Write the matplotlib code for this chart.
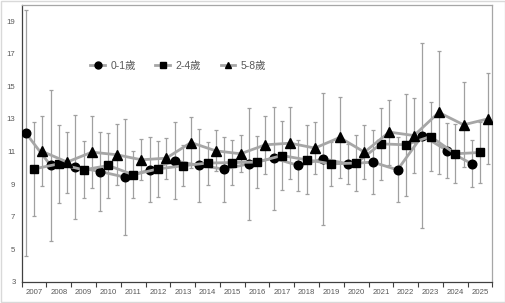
import numpy as np
import matplotlib
matplotlib.use("Agg")
import matplotlib.pyplot as plt
from matplotlib.patches import Rectangle

years = list(range(2007, 2026))

# 0-1歲 (circle)
age01 = [12.13, 10.14, 10.04, 9.77, 9.42, 9.87, 10.43, 10.14, 9.92, 10.24,
         10.59, 10.14, 10.55, 10.24, 10.35, 9.87, 11.98, 11.06, 10.24]
err01 = [7.55, 4.64, 3.2, 2.4, 3.55, 2.0, 2.36, 2.24, 2.0, 3.43,
         3.16, 1.54, 4.05, 1.24, 1.98, 2.0, 5.7, 1.66, 1.44]

# 2-4歲 (square)
age24 = [9.93, 10.24, 9.87, 10.14, 9.57, 9.93, 10.12, 10.29, 10.32, 10.35,
         10.75, 10.49, 10.24, 10.29, 11.47, 11.41, 11.92, 10.86, 10.94]
err24 = [2.9, 2.4, 1.75, 1.97, 1.44, 1.7, 1.25, 1.32, 1.4, 1.6,
         2.1, 2.12, 1.35, 1.7, 2.23, 3.12, 2.13, 1.82, 1.9]

# 5-8歲 (triangle)
age58 = [11.0, 10.35, 10.96, 10.8, 10.49, 10.59, 11.55, 11.04, 10.86, 11.41,
         11.51, 11.21, 11.86, 10.96, 12.19, 11.98, 13.4, 12.64, 13.01]
err58 = [2.15, 1.87, 2.2, 1.87, 1.26, 1.25, 1.56, 1.26, 1.15, 1.8,
         2.22, 1.6, 2.47, 1.66, 2.0, 2.3, 3.8, 2.6, 2.8]

labels = ["0-1歲", "2-4歲", "5-8歲"]
yticks = list(range(3, 20, 2))

line_col = "#a6a6a6"
err_col = "#a0a0a0"
txt_col = "#595959"

fig = plt.figure(figsize=(5.06, 3.03), dpi=100)
ax = fig.add_axes([0.0429, 0.0703, 0.9304, 0.9132])

x = np.arange(len(years))
series = [(age01, err01, "o", -1/3, 6.2), (age24, err24, "s", 0.0, 6.0),
          (age58, err58, "^", 1/3, 6.6)]

for (vals, errs, mk, off, ms), lab in zip(series, labels):
    xs = x + off
    ax.errorbar(xs, vals, yerr=errs, fmt="none", ecolor=err_col,
                elinewidth=0.9, capsize=1.6, capthick=0.9, zorder=1)
    ax.plot(xs, vals, color=line_col, lw=2.0, marker=mk, ms=ms,
            mfc="black", mec="black", label=lab, zorder=3)

ax.set_xlim(-0.5, len(years) - 0.5)
ax.set_ylim(3, 20)
ax.set_yticks(yticks)
ax.set_yticklabels([str(t) for t in yticks])

ax.set_xticks(np.arange(len(years) + 1) - 0.5)
ax.set_xticklabels([])
ax.set_xticks(x, minor=True)
ax.set_xticklabels([str(y) for y in years], minor=True)
ax.tick_params(axis="x", which="major", direction="out", length=3.5,
               width=0.8, color="#404040")
ax.tick_params(axis="x", which="minor", length=0, pad=5,
               labelsize=5.6, labelcolor=txt_col)
ax.tick_params(axis="y", length=0, pad=4.5, labelsize=5.6, labelcolor=txt_col)
for lbl in ax.get_xticklabels(minor=True) + ax.get_yticklabels():
    lbl.set_family("Liberation Sans")

ax.spines["left"].set_color("#404040")
ax.spines["bottom"].set_color("#404040")
ax.spines["top"].set_color("#a6a6a6")
ax.spines["right"].set_color("#a6a6a6")
for s in ax.spines.values():
    s.set_linewidth(0.9)

leg = fig.legend(loc="center", bbox_to_anchor=(0.352, 0.783), ncol=3,
                 frameon=False, handlelength=1.4, handletextpad=0.5,
                 columnspacing=1.9,
                 prop={"family": ["Liberation Sans", "Noto Sans CJK TC"],
                       "size": 7.5})
for t in leg.get_texts():
    t.set_color(txt_col)
for h in leg.legend_handles:
    h.set_markersize(5)

fig.patches.append(Rectangle((0.001, 0.002), 0.997, 0.995,
                             transform=fig.transFigure, fill=False,
                             edgecolor="#d9d9d9", lw=1.0))

fig.savefig("out.png", dpi=100)
